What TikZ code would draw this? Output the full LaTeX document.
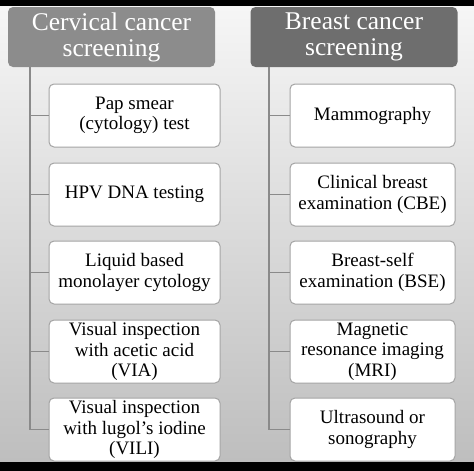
\documentclass[tikz,border=0pt]{standalone}
\usepackage{fontspec}
\setmainfont{Liberation Serif}
\definecolor{headL}{HTML}{8C8C8C}
\definecolor{headR}{HTML}{6E6E6E}
\definecolor{boxgray}{HTML}{A4A4A4}
\definecolor{linegray}{HTML}{8A8A8A}
\definecolor{bgtop}{HTML}{F6F6F6}
\definecolor{bgbot}{HTML}{BEBEBE}
\begin{document}
\begin{tikzpicture}[x=1pt,y=-1pt,
  head/.style={rounded corners=5pt, minimum width=207pt, minimum height=60pt,
    inner sep=0pt, text=white, align=center, font=\fontsize{25.5}{26}\selectfont},
  item/.style={draw=boxgray, line width=1pt, fill=white, rounded corners=5pt,
    minimum height=63pt, inner sep=0pt, align=center,
    font=\fontsize{19}{20.5}\selectfont},
  itemL/.style={item, minimum width=171pt},
  itemR/.style={item, minimum width=165pt},
  link/.style={draw=linegray, line width=1.5pt}]
\useasboundingbox (0,0) rectangle (474,471);
% background
\fill[black] (0,0) rectangle (474,7);
\shade[top color=bgtop, bottom color=bgbot] (0,6) rectangle (474,462);
% headers
\node[head, fill=headL] (lh) at (111.5,37) {Cervical cancer\\screening};
\node[head, fill=headR] (rh) at (354,37) {Breast cancer\\screening};
% left column
\node[itemL] (l1) at (134.5,115.5) {Pap smear\\(cytology) test};
\node[itemL] (l2) at (134.5,194.5) {HPV DNA testing};
\node[itemL] (l3) at (134.5,272.5) {Liquid based\\monolayer cytology};
\node[itemL] (l4) at (134.5,351.5) {Visual inspection\\with acetic acid\\(VIA)};
\node[itemL] (l5) at (134.5,429.5) {Visual inspection\\with lugol’s iodine\\(VILI)};
% right column
\node[itemR] (r1) at (372.5,115.5) {Mammography};
\node[itemR] (r2) at (372.5,194.5) {Clinical breast\\examination (CBE)};
\node[itemR] (r3) at (372.5,272.5) {Breast-self\\examination (BSE)};
\node[itemR] (r4) at (372.5,351.5) {Magnetic\\resonance imaging\\(MRI)};
\node[itemR] (r5) at (372.5,429.5) {Ultrasound or\\sonography};
% connectors
\coordinate (lt) at (30,67);
\coordinate (rt) at (269,67);
\draw[link] (lt) |- (l5.west);
\foreach \n in {l1,l2,l3,l4} \draw[link] (lt |- \n.west) -- (\n.west);
\draw[link] (rt) |- (r5.west);
\foreach \n in {r1,r2,r3,r4} \draw[link] (rt |- \n.west) -- (\n.west);
% bottom bar
\fill[black] (0,462) rectangle (474,471);
\end{tikzpicture}
\end{document}
